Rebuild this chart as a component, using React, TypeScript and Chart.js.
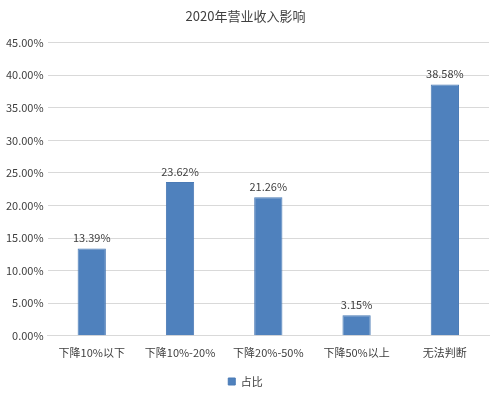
import React, { useEffect, useRef } from "react";
import { Chart, registerables } from "chart.js";

Chart.register(...registerables);

const categories = ["下降10%以下", "下降10%-20%", "下降20%-50%", "下降50%以上", "无法判断"];
const shareValues = [13.39, 23.62, 21.26, 3.15, 38.58];
const seriesName = "占比";
const titleText = "2020年营业收入影响";

const FONT = "'Noto Sans CJK SC', 'Noto Sans', sans-serif";

const valueLabelPlugin = {
  id: "valueLabels",
  afterDatasetsDraw(chart: any) {
    const ctx = chart.ctx;
    ctx.save();
    ctx.font = `11px ${FONT}`;
    ctx.fillStyle = "#404040";
    ctx.textAlign = "center";
    ctx.textBaseline = "bottom";
    chart.data.datasets.forEach((ds: any, i: number) => {
      const meta = chart.getDatasetMeta(i);
      meta.data.forEach((el: any, j: number) => {
        ctx.fillText(ds.data[j].toFixed(2) + "%", el.x, el.y - 5);
      });
    });
    ctx.restore();
  },
};

export default function App() {
  const ref = useRef<HTMLCanvasElement | null>(null);
  useEffect(() => {
    if (!ref.current) return;
    const chart = new Chart(ref.current, {
      type: "bar",
      data: {
        labels: categories,
        datasets: [
          {
            label: seriesName,
            data: shareValues,
            backgroundColor: "#4f81bd",
            borderColor: "#4a7ab5",
            borderWidth: 1,
            categoryPercentage: 1,
            barPercentage: 0.32,
          },
        ],
      },
      options: {
        responsive: false,
        animation: false,
        layout: { padding: { left: 2, right: 12, top: 6, bottom: -4 } },
        plugins: {
          title: {
            display: true,
            text: titleText,
            color: "#404040",
            font: { family: FONT, size: 13, weight: "normal" },
            padding: { top: 2, bottom: 19 },
          },
          legend: {
            position: "bottom",
            labels: {
              color: "#404040",
              font: { family: FONT, size: 11 },
              boxWidth: 7,
              boxHeight: 7,
              padding: 2,
            },
          },
          tooltip: { enabled: false },
        },
        scales: {
          y: {
            min: 0,
            max: 45,
            ticks: {
              stepSize: 5,
              color: "#404040",
              font: { family: FONT, size: 11 },
              padding: 4,
              callback: (v: any) => Number(v).toFixed(2) + "%",
            },
            grid: { color: "#d9d9d9", drawTicks: false },
            border: { display: false },
          },
          x: {
            afterFit: (scale: any) => {
              scale.height += 13;
            },
            ticks: {
              color: "#404040",
              font: { family: FONT, size: 11 },
              padding: 2,
              maxRotation: 0,
              autoSkip: false,
            },
            grid: { display: false },
            border: { color: "#d9d9d9" },
          },
        },
      },
      plugins: [valueLabelPlugin],
    });
    return () => chart.destroy();
  }, []);
  return (
    <div style={{ position: "fixed", left: 0, top: 0, width: 501, height: 393, background: "#fff" }}>
      <canvas ref={ref} width={501} height={393} style={{ width: 501, height: 393 }} />
    </div>
  );
}
